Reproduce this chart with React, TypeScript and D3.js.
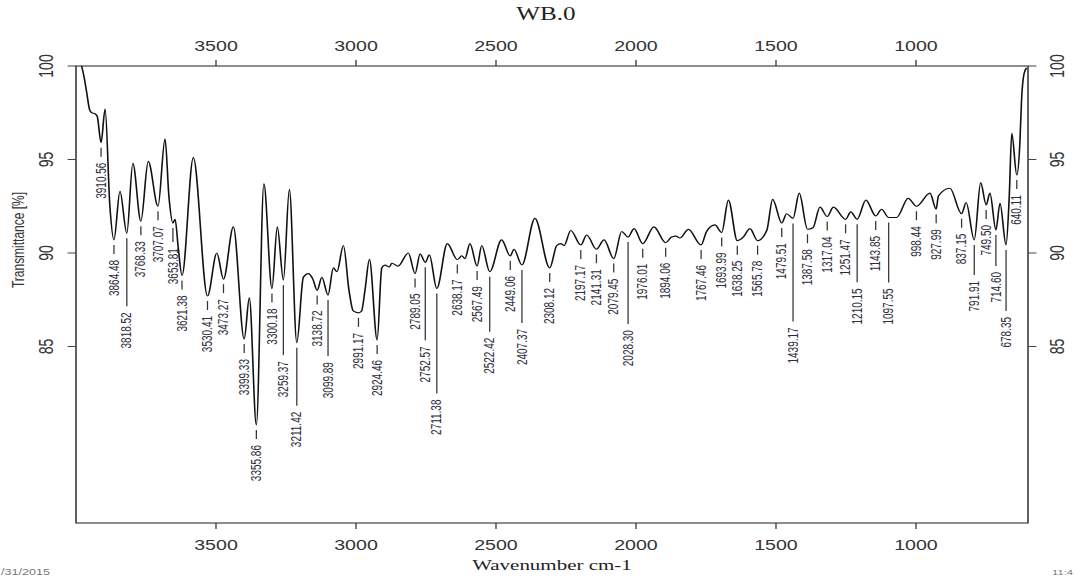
import React from "react";
import * as d3 from "d3";

// spectrum (cm-1 / %T)
const wavenumbers = [
  3980, 3971, 3962, 3952, 3944, 3932, 3924, 3910.56, 3896, 3879,
  3864.48, 3843, 3818.52, 3797, 3768.33, 3742, 3707.07, 3682, 3668, 3653.81,
  3646, 3635, 3621.38, 3581, 3530.41, 3497, 3473.27, 3438, 3399.33, 3381,
  3355.86, 3329, 3300.18, 3281, 3259.37, 3238, 3211.42, 3188, 3170, 3154,
  3138.72, 3122, 3099.89, 3081, 3068, 3045, 3025, 3010, 2991.17, 2980,
  2968, 2952, 2924.46, 2908, 2896, 2881, 2872, 2850, 2813, 2789.05,
  2771, 2752.57, 2738, 2711.38, 2674, 2638.17, 2622, 2611, 2593, 2567.49,
  2551, 2522.42, 2480, 2449.06, 2436, 2407.37, 2361, 2308.12, 2283, 2268,
  2257, 2233, 2197.17, 2176, 2141.31, 2114, 2079.45, 2051, 2028.3, 2007,
  1976.01, 1936, 1894.06, 1873, 1857, 1843, 1813, 1767.46, 1748, 1718,
  1693.99, 1670, 1638.25, 1617, 1593, 1565.78, 1533, 1512, 1479.51, 1462,
  1439.17, 1417, 1387.58, 1368, 1343, 1317.04, 1295, 1251.47, 1233, 1210.15,
  1179, 1143.85, 1123, 1097.55, 1069, 1028, 998.44, 950, 927.99, 920,
  879, 837.15, 821, 791.91, 769, 749.5, 736, 714.6, 700, 678.35,
  667, 658, 640.11, 629, 623, 614, 605,
];
const transmittance = [
  100.0, 99.4, 98.6, 97.7, 97.5, 97.45, 97.3, 95.9, 97.7, 92.5,
  90.7, 93.3, 91.05, 94.8, 91.7, 94.9, 92.5, 96.1, 93.0, 91.6,
  91.8, 90.3, 88.8, 95.1, 87.7, 90.0, 88.6, 91.4, 85.4, 87.6,
  80.8, 93.7, 88.1, 91.4, 88.55, 93.4, 85.2, 88.7, 88.9, 88.6,
  88.0, 88.7, 87.75, 89.2, 89.0, 90.4, 88.0, 86.9, 86.8, 86.9,
  88.0, 89.66, 85.35, 89.2, 89.35, 89.25, 89.45, 89.3, 90.0, 88.9,
  89.95, 89.5, 89.9, 88.1, 90.5, 89.65, 89.85, 89.7, 90.5, 89.3,
  90.4, 89.0, 90.7, 89.84, 90.2, 89.36, 91.85, 89.2, 90.4, 90.5,
  90.4, 91.2, 90.43, 90.96, 90.2, 90.7, 89.7, 91.15, 90.85, 91.3,
  90.5, 91.4, 90.55, 90.85, 90.9, 90.8, 91.26, 90.43, 91.15, 91.5,
  91.1, 92.83, 90.66, 90.85, 91.3, 90.66, 91.2, 92.87, 91.6, 92.1,
  91.85, 93.2, 91.27, 91.35, 92.45, 91.95, 92.45, 91.8, 92.2, 91.8,
  92.83, 91.98, 92.34, 91.9, 91.9, 92.92, 92.5, 93.2, 92.34, 93.05,
  93.46, 92.1, 92.7, 90.7, 93.76, 92.57, 93.2, 91.23, 92.66, 90.43,
  93.0, 96.4, 94.17, 95.9, 98.2, 99.6, 99.9,
];

// labelled minima
const peakLabels = [
  3910.56, 3864.48, 3818.52, 3768.33, 3707.07, 3653.81, 3621.38, 3530.41,
  3473.27, 3399.33, 3355.86, 3300.18, 3259.37, 3211.42, 3138.72, 3099.89,
  2991.17, 2924.46, 2789.05, 2752.57, 2711.38, 2638.17, 2567.49, 2522.42,
  2449.06, 2407.37, 2308.12, 2197.17, 2141.31, 2079.45, 2028.3, 1976.01,
  1894.06, 1767.46, 1693.99, 1638.25, 1565.78, 1479.51, 1439.17, 1387.58,
  1317.04, 1251.47, 1210.15, 1143.85, 1097.55, 998.44, 927.99, 837.15,
  791.91, 749.5, 714.6, 678.35, 640.11,
];

const xTicks = [3500, 3000, 2500, 2000, 1500, 1000];
const yTicks = [100, 95, 90, 85];

// layout: leader lengths (px) for the staggered labels, others use the short dash
const longLeaders: Record<string, number> = {
  "3818.52": 68, "3653.81": 14, "3259.37": 70, "3211.42": 58, "3099.89": 56,
  "2752.57": 73, "2711.38": 100, "2522.42": 55, "2407.37": 53, "2028.30": 82,
  "1439.17": 98, "1210.15": 58, "1097.55": 60, "791.91": 30, "714.60": 31,
  "678.35": 61,
};

// the reference image is stretched horizontally, so draw narrow and stretch
const S = 1.4;
const VW = 1075 / S;
const H = 578;
const left = 76 / S;
const right = 1028 / S;
const top = 66;
const bottom = 523;

const sans = "'Liberation Sans', Arial, sans-serif";
const serif = "'Liberation Serif', 'Times New Roman', serif";

export default function App() {
  const x = d3.scaleLinear().domain([4000, 600]).range([left, right]);
  const y = d3.scaleLinear().domain([75.56, 100]).range([bottom, top]);

  const line = d3
    .line<number>()
    .x((_, i) => x(wavenumbers[i]))
    .y((d) => y(d))
    .curve(d3.curveMonotoneX);

  const mid = (left + right) / 2;

  return (
    <svg
      width={1075}
      height={H}
      viewBox={`0 0 ${VW} ${H}`}
      preserveAspectRatio="none"
      style={{ position: "absolute", left: 0, top: 0, background: "#fff" }}
    >
      <rect x={0} y={0} width={VW} height={H} fill="#fff" />

      {/* title */}
      <text x={mid - 6 / S} y={20} textAnchor="middle" fontFamily={serif} fontSize={18} fill="#222">
        WB.0
      </text>

      {/* box */}
      <rect
        x={left}
        y={top}
        width={right - left}
        height={bottom - top}
        fill="none"
        stroke="#444"
        strokeWidth={1.2}
      />

      {/* x axes, top and bottom */}
      {xTicks.map((t) => (
        <g key={t}>
          <line x1={x(t)} x2={x(t)} y1={top} y2={top - 6} stroke="#444" strokeWidth={1} />
          <line x1={x(t)} x2={x(t)} y1={bottom} y2={bottom + 6} stroke="#444" strokeWidth={1} />
          <text x={x(t)} y={51} textAnchor="middle" fontFamily={sans} fontSize={14} fill="#333">
            {t}
          </text>
          <text x={x(t)} y={550} textAnchor="middle" fontFamily={sans} fontSize={14} fill="#333">
            {t}
          </text>
        </g>
      ))}

      {/* y axes, left and right */}
      {yTicks.map((t) => (
        <g key={t}>
          <line x1={left} x2={left - 6} y1={y(t)} y2={y(t)} stroke="#444" strokeWidth={1} />
          <line x1={right} x2={right + 6} y1={y(t)} y2={y(t)} stroke="#444" strokeWidth={1} />
          <text
            transform={`translate(${46.7 / S},${y(t)}) rotate(-90)`}
            textAnchor="middle"
            dominantBaseline="central"
            fontFamily={sans}
            fontSize={14}
            fill="#333"
          >
            {t}
          </text>
          <text
            transform={`translate(${1058 / S},${y(t)}) rotate(-90)`}
            textAnchor="middle"
            dominantBaseline="central"
            fontFamily={sans}
            fontSize={14}
            fill="#333"
          >
            {t}
          </text>
        </g>
      ))}

      {/* axis titles */}
      <text x={mid} y={570} textAnchor="middle" fontFamily={serif} fontSize={15} fill="#222">
        Wavenumber cm-1
      </text>
      <text
        transform={`translate(${18 / S},240) rotate(-90)`}
        textAnchor="middle"
        dominantBaseline="central"
        fontFamily={sans}
        fontSize={12}
        fill="#333"
      >
        Transmittance [%]
      </text>

      {/* spectrum */}
      <path d={line(transmittance) || ""} fill="none" stroke="#111" strokeWidth={1.15} />

      {/* peak labels */}
      {peakLabels.map((w) => {
        const i = wavenumbers.indexOf(w);
        const label = w.toFixed(2);
        const px = x(w);
        const y0 = y(transmittance[i]) + 5;
        const len = longLeaders[label] ?? 9;
        return (
          <g key={label}>
            <line x1={px} x2={px} y1={y0} y2={y0 + len} stroke="#333" strokeWidth={0.9} />
            <text
              transform={`translate(${px},${y0 + len + 6}) rotate(-90)`}
              textAnchor="end"
              dominantBaseline="central"
              fontFamily={sans}
              fontSize={10}
              fill="#2d2d3d"
            >
              {label}
            </text>
          </g>
        );
      })}

      {/* page footer bits at the edges */}
      <text x={1 / S} y={575} fontFamily={sans} fontSize={9} fill="#777">
        /31/2015
      </text>
      <text x={1073 / S} y={575} textAnchor="end" fontFamily={sans} fontSize={8} fill="#777">
        11:4
      </text>
    </svg>
  );
}
